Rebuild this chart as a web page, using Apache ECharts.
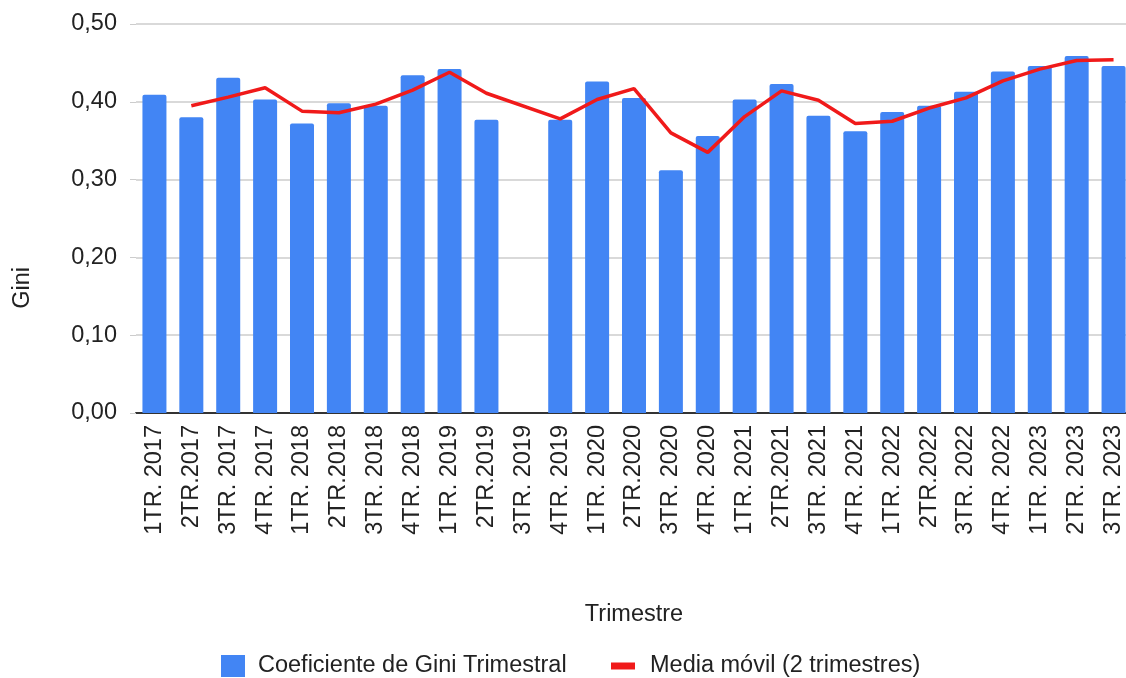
<!DOCTYPE html>
<html>
<head>
<meta charset="utf-8">
<script src="https://cdn.jsdelivr.net/npm/echarts@6/dist/echarts.min.js"></script>
<style>
	html, body { margin: 0; padding: 0; background: #fff; }
	#main { width: 1126px; height: 678px; }
</style>
</head>
<body>
<div id="main"></div>
<script>
let categories = [
	'1TR. 2017', '2TR.2017', '3TR. 2017', '4TR. 2017',
	'1TR. 2018', '2TR.2018', '3TR. 2018', '4TR. 2018',
	'1TR. 2019', '2TR.2019', '3TR. 2019', '4TR. 2019',
	'1TR. 2020', '2TR.2020', '3TR. 2020', '4TR. 2020',
	'1TR. 2021', '2TR.2021', '3TR. 2021', '4TR. 2021',
	'1TR. 2022', '2TR.2022', '3TR. 2022', '4TR. 2022',
	'1TR. 2023', '2TR. 2023', '3TR. 2023'
];

// Coeficiente de Gini Trimestral (3TR. 2019 has no value)
let gini = [
	0.409, 0.380, 0.431, 0.403,
	0.372, 0.398, 0.395, 0.434,
	0.442, 0.377, null, 0.377,
	0.426, 0.405, 0.312, 0.356,
	0.403, 0.423, 0.382, 0.362,
	0.387, 0.395, 0.413, 0.439,
	0.446, 0.459, 0.446
];

// Media movil (2 trimestres)
let media = [
	null, 0.395, 0.406, 0.418,
	0.388, 0.386, 0.397, 0.415,
	0.438, 0.411, null, 0.378,
	0.403, 0.417, 0.360, 0.335,
	0.381, 0.414, 0.402, 0.372,
	0.375, 0.392, 0.405, 0.427,
	0.442, 0.453, 0.454
];

let yTicks = [0, 0.1, 0.2, 0.3, 0.4, 0.5];

let font = "'Liberation Sans', Arial, sans-serif";
let fs = 23.5;
let txt = '#222';

let chartDom = document.getElementById('main');
let myChart = echarts.init(chartDom);

let option = {
	animation: false,
	textStyle: { fontFamily: font },
	grid: {
		left: 136,
		top: 24,
		width: 996,
		height: 389,
		containLabel: false,
		outerBoundsMode: 'none'
	},
	legend: [{
		data: ['Coeficiente de Gini Trimestral'],
		left: 216,
		top: 649,
		icon: 'rect',
		itemWidth: 24,
		itemHeight: 22,
		textStyle: { fontSize: fs, color: txt, lineHeight: 24, padding: [0, 0, 0, 8] }
	}, {
		data: ['Media móvil (2 trimestres)'],
		left: 606,
		top: 649,
		icon: 'rect',
		itemWidth: 24,
		itemHeight: 7,
		textStyle: { fontSize: fs, color: txt, lineHeight: 24, padding: [0, 0, 0, 10] }
	}],
	graphic: [{
		type: 'text',
		left: 11,
		top: 267,
		rotation: Math.PI / 2,
		style: { text: 'Gini', font: fs + 'px ' + font, fill: txt }
	}],
	xAxis: {
		type: 'category',
		data: categories,
		name: 'Trimestre',
		nameLocation: 'middle',
		nameGap: 190,
		nameTextStyle: { fontSize: fs, color: txt },
		axisLine: { lineStyle: { color: '#333', width: 2 } },
		axisTick: { show: false },
		axisLabel: {
			interval: 0,
			rotate: 90,
			margin: 12,
			fontSize: fs,
			color: txt
		}
	},
	yAxis: {
		type: 'value',
		min: 0,
		max: 0.5,
		interval: 0.1,
		axisLine: { show: false },
		axisTick: { show: true, length: 6, lineStyle: { color: '#ccc' } },
		splitLine: { lineStyle: { color: '#ccc', width: 1.5 } },
		axisLabel: {
			margin: 19,
			fontSize: fs,
			color: txt,
			formatter: (v) => yTicks.indexOf(Math.round(v * 10) / 10) >= 0 ? v.toFixed(2).replace('.', ',') : ''
		}
	},
	series: [{
		name: 'Coeficiente de Gini Trimestral',
		type: 'bar',
		data: gini,
		barWidth: 24,
		itemStyle: { color: '#4285f4', borderRadius: [2, 2, 0, 0] }
	}, {
		name: 'Media móvil (2 trimestres)',
		type: 'line',
		data: media,
		connectNulls: true,
		showSymbol: false,
		symbol: 'none',
		z: 5,
		itemStyle: { color: '#f01a1a' },
		lineStyle: { color: '#f01a1a', width: 3.5 }
	}]
};

myChart.setOption(option);
</script>
</body>
</html>
